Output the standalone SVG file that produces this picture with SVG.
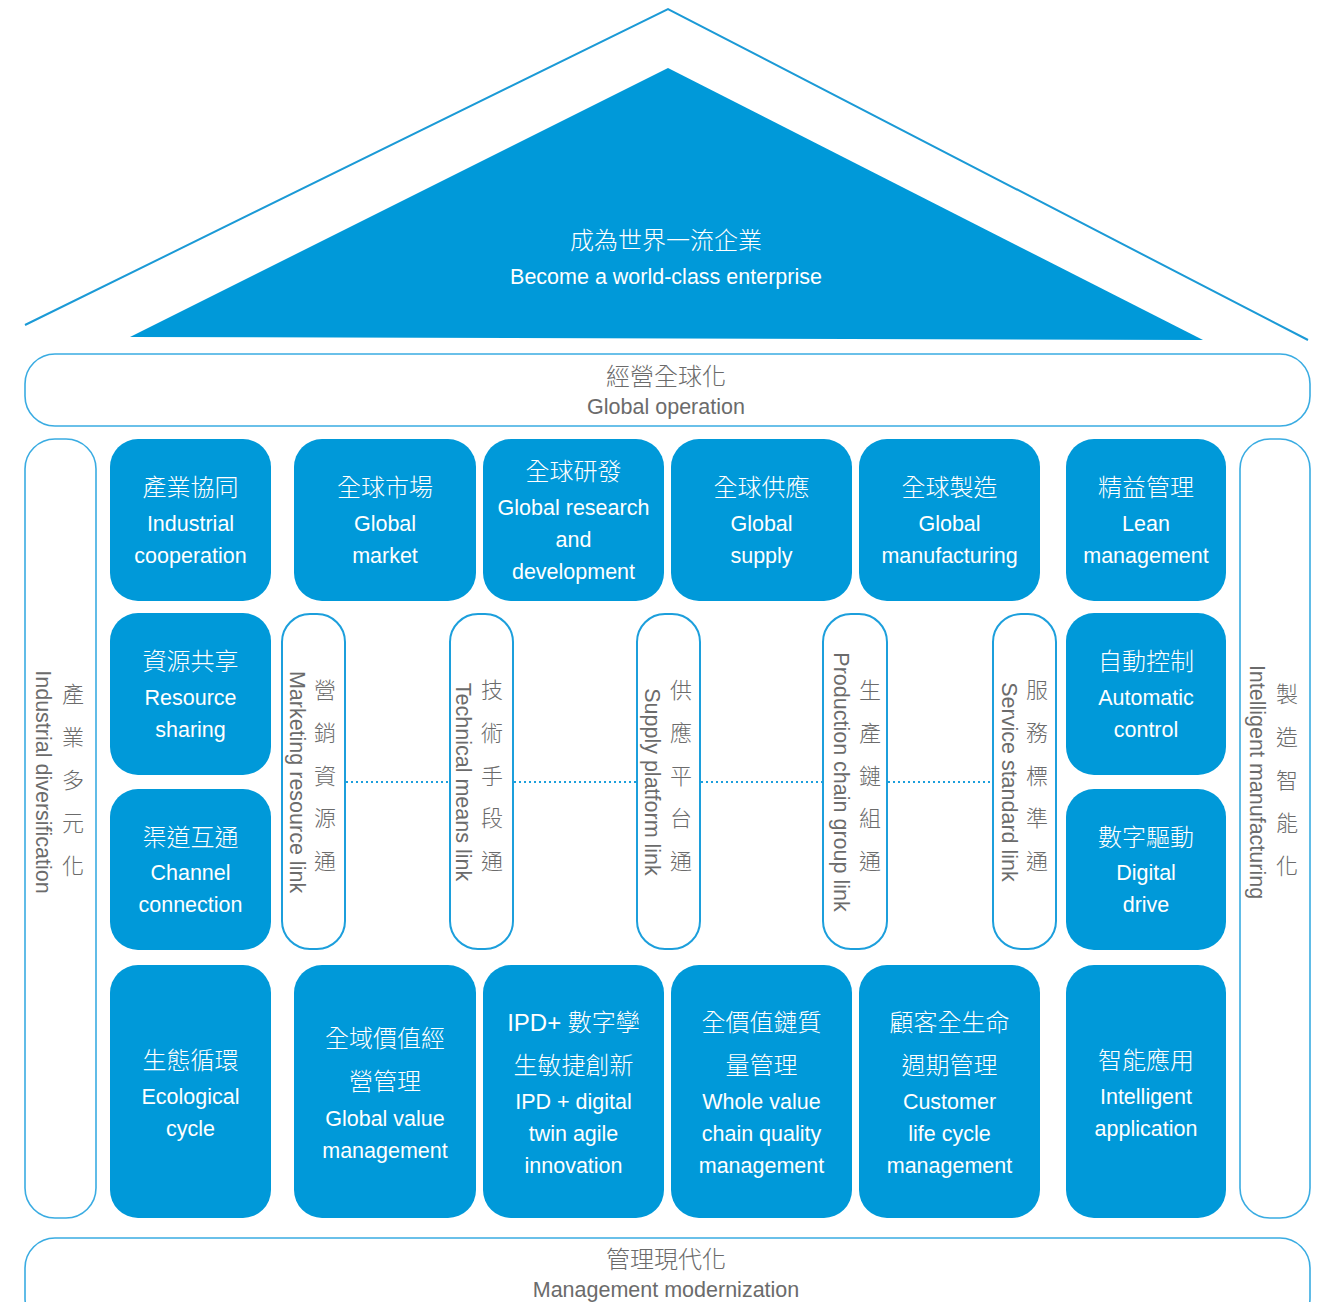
<svg xmlns="http://www.w3.org/2000/svg" width="1325" height="1302" viewBox="0 0 1325 1302">
<style>
.box{fill:#0099D9;}
.pill{fill:#fff;stroke:#1C9FDC;stroke-width:2;}
.bar{fill:#fff;stroke:#3AACE2;stroke-width:1.6;}
.cj{font-family:"Liberation Sans","Noto Sans CJK TC",sans-serif;font-size:24px;font-weight:300;text-anchor:middle;}
.en{font-family:"Liberation Sans","Noto Sans CJK TC",sans-serif;font-size:21.5px;text-anchor:middle;}
.w{fill:#fff;}
.g{fill:#6b6b6b;}
.vc{font-family:"Noto Sans CJK TC",sans-serif;font-size:22px;font-weight:300;text-anchor:middle;fill:#6b6b6b;}
.ve{font-family:"Liberation Sans",sans-serif;font-size:21.5px;text-anchor:middle;fill:#6b6b6b;}
.dot{stroke:#1C9FDC;stroke-width:2.2;stroke-dasharray:2 3;fill:none;}
</style>
<rect width="1325" height="1302" fill="#fff"/>
<g id="roof">
<polyline points="25,325 668,9 1308,340" fill="none" stroke="#1B9AD6" stroke-width="2"/>
<polygon points="130,337 668,68 1203,340" class="box"/>
<text x="666" y="249" class="cj w">成為世界一流企業</text>
<text x="666" y="284" class="en w">Become a world-class enterprise</text>
</g>
<g id="global-operation">
<rect x="25" y="354" width="1285" height="72" rx="30" class="bar"/>
<text x="666" y="385" class="cj g">經營全球化</text>
<text x="666" y="414" class="en g">Global operation</text>
</g>
<g id="pillar-left">
<rect x="25" y="439" width="71" height="779" rx="30" class="bar"/>
<text class="vc"><tspan x="73" y="702">產</tspan><tspan x="73" y="745">業</tspan><tspan x="73" y="788">多</tspan><tspan x="73" y="831">元</tspan><tspan x="73" y="874">化</tspan></text>
<text class="ve" transform="translate(36,782) rotate(90)">Industrial diversification</text>
</g>
<g id="pillar-right">
<rect x="1240" y="439" width="70" height="779" rx="30" class="bar"/>
<text class="vc"><tspan x="1287" y="702">製</tspan><tspan x="1287" y="745">造</tspan><tspan x="1287" y="788">智</tspan><tspan x="1287" y="831">能</tspan><tspan x="1287" y="874">化</tspan></text>
<text class="ve" transform="translate(1250,782) rotate(90)">Intelligent manufacturing</text>
</g>
<g id="n-industrial-cooperation">
<rect x="110" y="439" width="161" height="162" rx="28" class="box"/>
<text x="190.5" y="496" class="cj w">產業協同</text>
<text x="190.5" y="531" class="en w">Industrial</text>
<text x="190.5" y="563" class="en w">cooperation</text>
</g>
<g id="n-global-market">
<rect x="294" y="439" width="182" height="162" rx="28" class="box"/>
<text x="385" y="496" class="cj w">全球市場</text>
<text x="385" y="531" class="en w">Global</text>
<text x="385" y="563" class="en w">market</text>
</g>
<g id="n-global-rd">
<rect x="483" y="439" width="181" height="162" rx="28" class="box"/>
<text x="573.5" y="480" class="cj w">全球研發</text>
<text x="573.5" y="515" class="en w">Global research</text>
<text x="573.5" y="547" class="en w">and</text>
<text x="573.5" y="579" class="en w">development</text>
</g>
<g id="n-global-supply">
<rect x="671" y="439" width="181" height="162" rx="28" class="box"/>
<text x="761.5" y="496" class="cj w">全球供應</text>
<text x="761.5" y="531" class="en w">Global</text>
<text x="761.5" y="563" class="en w">supply</text>
</g>
<g id="n-global-manufacturing">
<rect x="859" y="439" width="181" height="162" rx="28" class="box"/>
<text x="949.5" y="496" class="cj w">全球製造</text>
<text x="949.5" y="531" class="en w">Global</text>
<text x="949.5" y="563" class="en w">manufacturing</text>
</g>
<g id="n-lean-management">
<rect x="1066" y="439" width="160" height="162" rx="28" class="box"/>
<text x="1146" y="496" class="cj w">精益管理</text>
<text x="1146" y="531" class="en w">Lean</text>
<text x="1146" y="563" class="en w">management</text>
</g>
<g id="n-resource-sharing">
<rect x="110" y="613" width="161" height="162" rx="28" class="box"/>
<text x="190.5" y="670" class="cj w">資源共享</text>
<text x="190.5" y="705" class="en w">Resource</text>
<text x="190.5" y="737" class="en w">sharing</text>
</g>
<g id="n-channel-connection">
<rect x="110" y="789" width="161" height="161" rx="28" class="box"/>
<text x="190.5" y="846" class="cj w">渠道互通</text>
<text x="190.5" y="880" class="en w">Channel</text>
<text x="190.5" y="912" class="en w">connection</text>
</g>
<g id="n-automatic-control">
<rect x="1066" y="613" width="160" height="162" rx="28" class="box"/>
<text x="1146" y="670" class="cj w">自動控制</text>
<text x="1146" y="705" class="en w">Automatic</text>
<text x="1146" y="737" class="en w">control</text>
</g>
<g id="n-digital-drive">
<rect x="1066" y="789" width="160" height="161" rx="28" class="box"/>
<text x="1146" y="846" class="cj w">數字驅動</text>
<text x="1146" y="880" class="en w">Digital</text>
<text x="1146" y="912" class="en w">drive</text>
</g>
<g id="connectors">
<line x1="346" y1="782" x2="449" y2="782" class="dot"/>
<line x1="514" y1="782" x2="636" y2="782" class="dot"/>
<line x1="701" y1="782" x2="822" y2="782" class="dot"/>
<line x1="888" y1="782" x2="992" y2="782" class="dot"/>
</g>
<g id="n-marketing-link">
<rect x="282" y="614" width="63" height="335" rx="28" class="pill"/>
<text class="vc"><tspan x="325" y="698">營</tspan><tspan x="325" y="741">銷</tspan><tspan x="325" y="784">資</tspan><tspan x="325" y="826">源</tspan><tspan x="325" y="869">通</tspan></text>
<text class="ve" transform="translate(290,782) rotate(90)">Marketing resource link</text>
</g>
<g id="n-technical-link">
<rect x="450" y="614" width="63" height="335" rx="28" class="pill"/>
<text class="vc"><tspan x="492" y="698">技</tspan><tspan x="492" y="741">術</tspan><tspan x="492" y="784">手</tspan><tspan x="492" y="826">段</tspan><tspan x="492" y="869">通</tspan></text>
<text class="ve" transform="translate(456,782) rotate(90)">Technical means link</text>
</g>
<g id="n-supply-link">
<rect x="637" y="614" width="63" height="335" rx="28" class="pill"/>
<text class="vc"><tspan x="681" y="698">供</tspan><tspan x="681" y="741">應</tspan><tspan x="681" y="784">平</tspan><tspan x="681" y="826">台</tspan><tspan x="681" y="869">通</tspan></text>
<text class="ve" transform="translate(645,782) rotate(90)">Supply platform link</text>
</g>
<g id="n-production-link">
<rect x="823" y="614" width="64" height="335" rx="28" class="pill"/>
<text class="vc"><tspan x="870" y="698">生</tspan><tspan x="870" y="741">產</tspan><tspan x="870" y="784">鏈</tspan><tspan x="870" y="826">組</tspan><tspan x="870" y="869">通</tspan></text>
<text class="ve" transform="translate(834,782) rotate(90)">Production chain group link</text>
</g>
<g id="n-service-link">
<rect x="993" y="614" width="63" height="335" rx="28" class="pill"/>
<text class="vc"><tspan x="1037" y="698">服</tspan><tspan x="1037" y="741">務</tspan><tspan x="1037" y="784">標</tspan><tspan x="1037" y="826">準</tspan><tspan x="1037" y="869">通</tspan></text>
<text class="ve" transform="translate(1002,782) rotate(90)">Service standard link</text>
</g>
<g id="n-ecological-cycle">
<rect x="110" y="965" width="161" height="253" rx="28" class="box"/>
<text x="190.5" y="1069" class="cj w">生態循環</text>
<text x="190.5" y="1104" class="en w">Ecological</text>
<text x="190.5" y="1136" class="en w">cycle</text>
</g>
<g id="n-global-value">
<rect x="294" y="965" width="182" height="253" rx="28" class="box"/>
<text x="385" y="1047" class="cj w">全域價值經</text>
<text x="385" y="1090" class="cj w">營管理</text>
<text x="385" y="1126" class="en w">Global value</text>
<text x="385" y="1158" class="en w">management</text>
</g>
<g id="n-ipd">
<rect x="483" y="965" width="181" height="253" rx="28" class="box"/>
<text x="573.5" y="1031" class="cj w">IPD+ 數字孿</text>
<text x="573.5" y="1074" class="cj w">生敏捷創新</text>
<text x="573.5" y="1109" class="en w">IPD + digital</text>
<text x="573.5" y="1141" class="en w">twin agile</text>
<text x="573.5" y="1173" class="en w">innovation</text>
</g>
<g id="n-whole-value-chain">
<rect x="671" y="965" width="181" height="253" rx="28" class="box"/>
<text x="761.5" y="1031" class="cj w">全價值鏈質</text>
<text x="761.5" y="1074" class="cj w">量管理</text>
<text x="761.5" y="1109" class="en w">Whole value</text>
<text x="761.5" y="1141" class="en w">chain quality</text>
<text x="761.5" y="1173" class="en w">management</text>
</g>
<g id="n-customer-life-cycle">
<rect x="859" y="965" width="181" height="253" rx="28" class="box"/>
<text x="949.5" y="1031" class="cj w">顧客全生命</text>
<text x="949.5" y="1074" class="cj w">週期管理</text>
<text x="949.5" y="1109" class="en w">Customer</text>
<text x="949.5" y="1141" class="en w">life cycle</text>
<text x="949.5" y="1173" class="en w">management</text>
</g>
<g id="n-intelligent-application">
<rect x="1066" y="965" width="160" height="253" rx="28" class="box"/>
<text x="1146" y="1069" class="cj w">智能應用</text>
<text x="1146" y="1104" class="en w">Intelligent</text>
<text x="1146" y="1136" class="en w">application</text>
</g>
<g id="management-modernization">
<rect x="25" y="1238" width="1285" height="90" rx="30" class="bar"/>
<text x="666" y="1268" class="cj g">管理現代化</text>
<text x="666" y="1297" class="en g">Management modernization</text>
</g>
</svg>
